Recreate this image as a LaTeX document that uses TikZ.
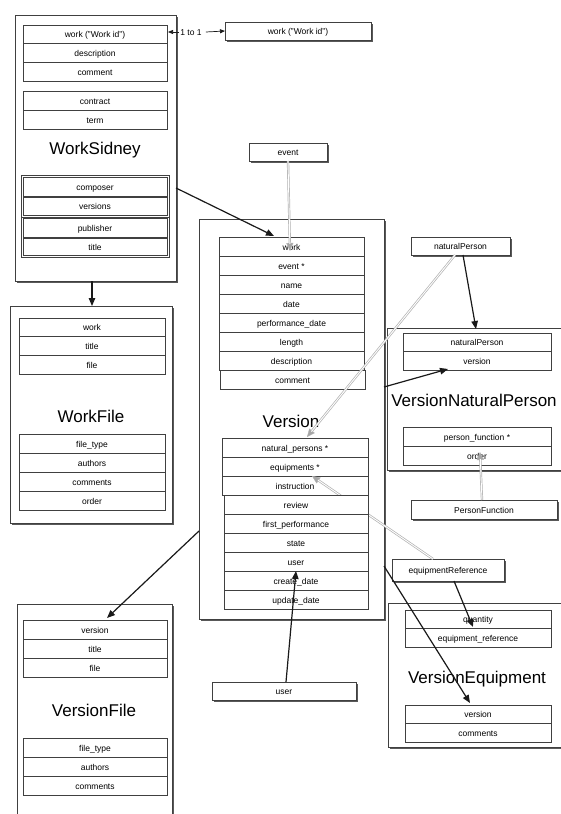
\documentclass[tikz,border=0pt]{standalone}
\usepackage{fontspec}
\setmainfont{Liberation Sans}
\usetikzlibrary{arrows.meta,shadows}
\newcommand{\umlrow}[7][row]{%
  \pgfmathsetmacro\rw{#5-#3}\pgfmathsetmacro\rh{#6-#4}%
  \pgfmathsetmacro\rcx{(#3+#5)/2}\pgfmathsetmacro\rcy{(#4+#6)/2}%
  \node[#1, minimum width=\rw pt, minimum height=\rh pt] (#2) at (\rcx,\rcy) {#7};}
\tikzset{
  row/.style={draw=black!75, fill=white, line width=0.6pt, inner sep=0pt, outer sep=0pt, font=\fontsize{8.5}{10}\selectfont, text height=7.6pt, text depth=0.4pt},
  frame/.style={draw=black!75, fill=white, line width=0.8pt, inner sep=0pt, outer sep=0pt,
     drop shadow={shadow xshift=1.8pt, shadow yshift=-2.4pt, fill=black, opacity=0.65}},
  plainframe/.style={draw=black!75, fill=white, line width=0.6pt, inner sep=0pt, outer sep=0pt},
  refbox/.style={draw=black!75, fill=white, line width=0.8pt, inner sep=0pt, outer sep=0pt, font=\fontsize{8.5}{10}\selectfont, text height=7.6pt, text depth=0.4pt,
     drop shadow={shadow xshift=1.6pt, shadow yshift=-2pt, fill=black, opacity=0.65}},
  title/.style={font=\fontsize{17}{20}\selectfont, inner sep=0pt, text height=12.2pt, text depth=0pt},
  lbl/.style={font=\fontsize{8.5}{10}\selectfont, inner sep=1pt, text height=7.6pt, text depth=0.4pt},
  barrow/.style={draw=black!90, line width=1.2pt, -{Triangle[length=8pt,width=6.5pt]}},
  sarrow/.style={draw=black!90, line width=0.7pt, -{Triangle[length=5pt,width=4pt]}},
  gback/.style={draw=black!30, line width=2.3pt, -{Triangle[length=8pt,width=7pt,line width=0.4pt,fill=black!35]}},
  gfront/.style={draw=white, line width=0.9pt, shorten >=7pt}
}
\begin{document}
\begin{tikzpicture}[x=1pt,y=-1pt]
\useasboundingbox (0,0) rectangle (561,814);
\clip (0,0) rectangle (561,814);
\fill[white] (0,0) rectangle (561,814);

% ---------- WorkSidney ----------
\umlrow[frame]{ws}{15}{15}{176}{281}{}
\umlrow{ws1}{23}{25}{167}{43.7}{work ("Work id")}
\umlrow{ws2}{23}{43.7}{167}{62.3}{description}
\umlrow{ws3}{23}{62.3}{167}{81}{comment}
\umlrow{ws4}{23}{91}{167}{110}{contract}
\umlrow{ws5}{23}{110}{167}{129}{term}
\node[title] (wst) at (95,148) {WorkSidney};
\umlrow[plainframe]{wsg1}{21}{175}{169}{217}{}
\umlrow[plainframe]{wsg2}{21}{217}{169}{257}{}
\umlrow{ws6}{23}{177}{167}{196}{composer}
\umlrow{ws7}{23}{197}{167}{215.5}{versions}
\umlrow{ws8}{23}{218.5}{167}{237}{publisher}
\umlrow{ws9}{23}{238}{167}{255.5}{title}

% ---------- work id ref ----------
\umlrow[refbox]{wid}{225}{22}{371}{40}{work ("Work id")}
\node[lbl] (one) at (191,32) {1 to 1};

% ---------- event ----------
\umlrow[refbox]{ev}{249}{143}{327}{161}{event}

% ---------- WorkFile ----------
\umlrow[frame]{wf}{10}{306}{172}{523}{}
\umlrow{wf1}{19}{318}{165}{336.7}{work}
\umlrow{wf2}{19}{336.7}{165}{355.3}{title}
\umlrow{wf3}{19}{355.3}{165}{374}{file}
\node[title] (wft) at (91,416) {WorkFile};
\umlrow{wf4}{19}{434}{165}{453}{file\_type}
\umlrow{wf5}{19}{453}{165}{472}{authors}
\umlrow{wf6}{19}{472}{165}{491}{comments}
\umlrow{wf7}{19}{491}{165}{510}{order}

% ---------- Version ----------
\umlrow[frame]{ver}{199}{219}{384}{619}{}
\umlrow{v1}{219}{237}{364}{256}{work}
\umlrow{v2}{219}{256}{364}{275}{event *}
\umlrow{v3}{219}{275}{364}{294}{name}
\umlrow{v4}{219}{294}{364}{313}{date}
\umlrow{v5}{219}{313}{364}{332}{performance\_date}
\umlrow{v6}{219}{332}{364}{351}{length}
\umlrow{v7}{219}{351}{364}{370}{description}
\umlrow{v8}{220}{370}{365}{389}{comment}
\node[title] (vert) at (291,421) {Version};
\umlrow{v9}{222}{438}{368}{457}{natural\_persons *}
\umlrow{v10}{222}{457}{368}{476}{equipments *}
\umlrow{v11}{222}{476}{368}{495}{instruction}

% ---------- VersionNaturalPerson ----------
\umlrow[frame]{vnp}{387}{328}{580}{470}{}
\umlrow{n1}{403}{333}{551}{351.5}{naturalPerson}
\umlrow{n2}{403}{351.5}{551}{370}{version}
\node[title] (vnpt) at (474,400) {VersionNaturalPerson};
\umlrow{n3}{403}{427}{551}{446}{person\_function *}
\umlrow{n4}{403}{446}{551}{465}{order}

% ---------- VersionEquipment ----------
\umlrow[frame]{veq}{388}{603}{580}{747}{}
\umlrow{e1}{405}{610}{551}{628.5}{quantity}
\umlrow{e2}{405}{628.5}{551}{647}{equipment\_reference}
\node[title] (veqt) at (477,677) {VersionEquipment};
\umlrow{e3}{405}{705}{551}{723.5}{version}
\umlrow{e4}{405}{723.5}{551}{742}{comments}

% ---------- VersionFile ----------
\umlrow[frame]{vf}{17}{604}{172}{830}{}
\umlrow{f1}{23}{620}{167}{639}{version}
\umlrow{f2}{23}{639}{167}{658}{title}
\umlrow{f3}{23}{658}{167}{677}{file}
\node[title] (vft) at (94,710) {VersionFile};
\umlrow{f4}{23}{738}{167}{757}{file\_type}
\umlrow{f5}{23}{757}{167}{776}{authors}
\umlrow{f6}{23}{776}{167}{795}{comments}

% ---------- reference boxes ----------
\umlrow[refbox]{np}{411}{237}{510}{255}{naturalPerson}
\umlrow[refbox]{pf}{411}{500}{557}{519}{PersonFunction}
\umlrow[refbox]{er}{392}{559}{504}{581}{equipmentReference}
\umlrow[refbox]{us}{212}{682}{356}{700}{user}

% ---------- coordinates ----------
\coordinate (g1s) at (288,161);  \coordinate (g1t) at (290,251);
\coordinate (g2s) at (455,255);  \coordinate (g2t) at (307,437);
\coordinate (g3s) at (433,559);  \coordinate (g3t) at (312,476);
\coordinate (g4s) at (482,500);  \coordinate (g4t) at (480,452);

% ---------- gray double arrows ----------
\draw[gback] (g1s) -- (g1t);  \draw[gfront] (g1s) -- (g1t);
\draw[gback] (g2s) -- (g2t);  \draw[gfront] (g2s) -- (g2t);
\draw[gback] (g3s) -- (g3t);  \draw[gfront] (g3s) -- (g3t);
\draw[gback] (g4s) -- (g4t);  \draw[gfront] (g4s) -- (g4t);

% Version rows drawn above the equipment reference line
\umlrow{v12}{224}{495}{368}{514}{review}
\umlrow{v13}{224}{514}{368}{533}{first\_performance}
\umlrow{v14}{224}{533}{368}{552}{state}
\umlrow{v15}{224}{552}{368}{571}{user}
\umlrow{v16}{224}{571}{368}{590}{create\_date}
\umlrow{v17}{224}{590}{368}{609}{update\_date}

% ---------- black arrows ----------
\coordinate (a1s) at (176,188);  \coordinate (a1t) at (274,236);
\coordinate (a2s) at (92,281);   \coordinate (a2t) at (92,306);
\coordinate (a4s) at (199,531);  \coordinate (a4t) at (107,618);
\coordinate (a5s) at (463,255);  \coordinate (a5t) at (476,329);
\coordinate (a6s) at (384,387);  \coordinate (a6t) at (448,369);
\coordinate (a7s) at (286,682);  \coordinate (a7t) at (296,571);
\coordinate (a8s) at (454,581);  \coordinate (a8t) at (473,627);
\coordinate (a9s) at (384,566);  \coordinate (a9t) at (470,703);
\coordinate (o1t) at (168,32);
\draw[barrow] (a1s) -- (a1t);
\draw[barrow] (a2s) -- (a2t);
\draw[barrow] (a4s) -- (a4t);
\draw[barrow] (a5s) -- (a5t);
\draw[barrow] (a6s) -- (a6t);
\draw[barrow] (a7s) -- (a7t);
\draw[barrow] (a8s) -- (a8t);
\draw[barrow] (a9s) -- (a9t);
\draw[sarrow] (one.west) -- (o1t);
\draw[sarrow] (one.east) ++(3,0) -- (wid.west);
\end{tikzpicture}
\end{document}
